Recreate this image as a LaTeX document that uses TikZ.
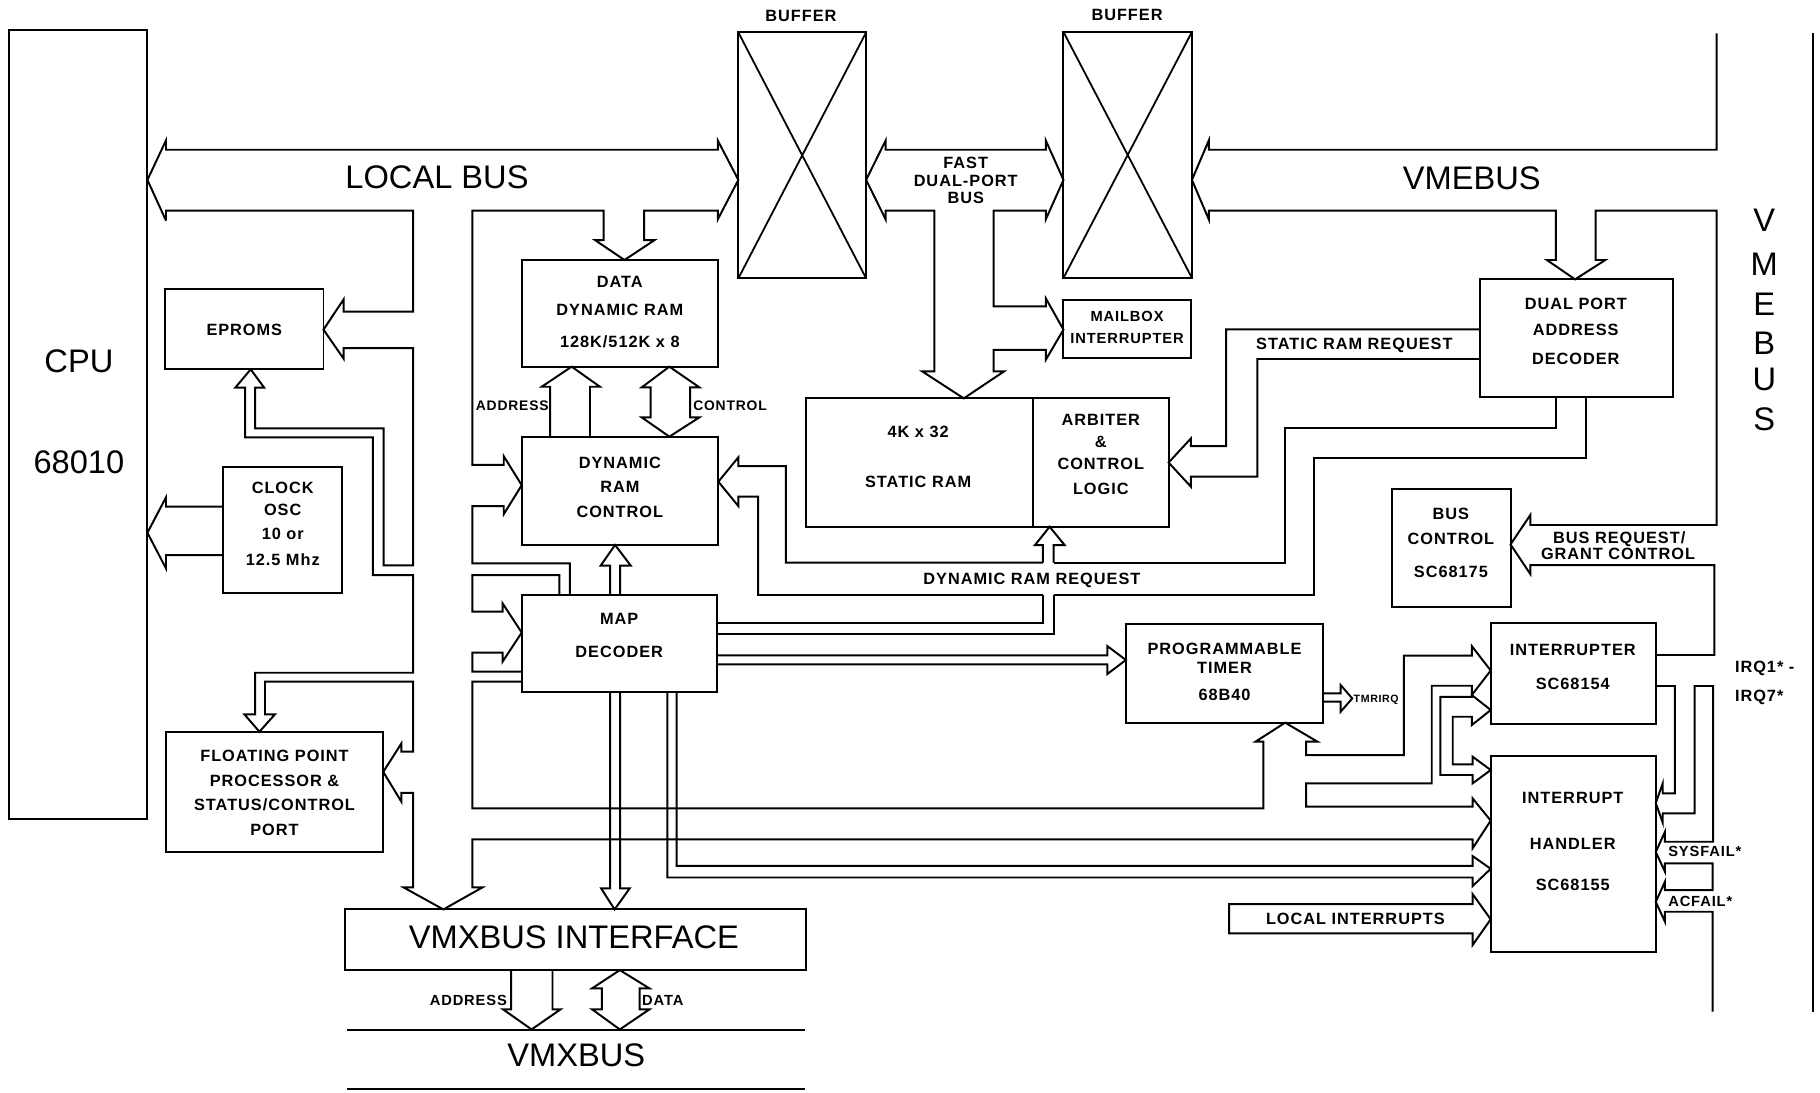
\documentclass[tikz,border=0pt]{standalone}
\usepackage{fontspec}
\setmainfont{Liberation Sans}
\newfontfamily\labfont[LetterSpace=6]{Liberation Sans}
\newcommand\blk[5]{%
  \pgfmathsetmacro\blkw{(#4-#2)*0.025}%
  \pgfmathsetmacro\blkh{(#5-#3)*0.025}%
  \node[blkbox, minimum width=\blkw cm, minimum height=\blkh cm] (#1) at ({(#2+#4)/2},{(#3+#5)/2}) {};}
\begin{document}
\begin{tikzpicture}[x=0.025cm,y=-0.025cm,
  blkbox/.style={draw, line width=1.2pt, inner sep=0pt, outer sep=0pt},
  busline/.style={draw, line width=1.2pt, line join=miter},
  lbl/.style={font=\labfont\bfseries\fontsize{10}{12}\selectfont, inner sep=0pt, text depth=0pt},
  lblsm/.style={font=\labfont\bfseries\fontsize{9}{11}\selectfont, inner sep=0pt, text depth=0pt},
  lblxs/.style={font=\labfont\bfseries\fontsize{8.5}{10}\selectfont, inner sep=0pt, text depth=0pt},
  lbltiny/.style={font=\labfont\bfseries\fontsize{6.5}{8}\selectfont, inner sep=0pt, text depth=0pt},
  bigtxt/.style={font=\fontsize{20}{24}\selectfont, inner sep=0pt, text depth=0pt}]
\useasboundingbox (0,0) rectangle (1568,941);

% ---------- blocks ----------
\blk{cpu}{8}{26}{127}{706}
\blk{eprom}{142.4}{249.3}{278.7}{318.2}
\blk{clock}{192.5}{402.1}{294.7}{511.2}
\blk{fpp}{143.1}{630.4}{330.2}{733.8}
\blk{dram}{449.5}{224}{618.9}{315.9}
\blk{drc}{449.5}{376.2}{618.9}{469.5}
\blk{map}{449.5}{512.6}{617.5}{595.9}
\blk{bufA}{636.1}{27.9}{746.2}{239.8}
\blk{bufB}{916.2}{27.5}{1026.9}{239.5}
\blk{mbox}{916.2}{258.5}{1025.9}{308.7}
\blk{sram}{694.1}{343.2}{890}{453.8}
\blk{arb}{890}{343.2}{1006.8}{453.8}
\blk{dpad}{1274.8}{240.7}{1441}{341.8}
\blk{busctl}{1199.1}{421.6}{1301.4}{522.7}
\blk{timer}{970}{537.9}{1139.5}{622.6}
\blk{intr}{1284.3}{537.1}{1426.5}{623.8}
\blk{hdl}{1284.3}{651.4}{1426.5}{820}
\blk{vmxif}{297.2}{783.5}{694.1}{835.8}

\draw[line width=1.1pt] (bufA.north west) -- (bufA.south east) (bufA.north east) -- (bufA.south west);
\draw[line width=1.1pt] (bufB.north west) -- (bufB.south east) (bufB.north east) -- (bufB.south west);

% ---------- local bus and its branches ----------
\draw[busline] (143,190) -- (127,155) -- (143,121) -- (143,129) -- (618.4,129) -- (618.4,121) -- (636.1,155)
  -- (618.4,189) -- (618.4,181.5) -- (555,181.5) -- (555,206.8) -- (564,206.8) -- (538,224) -- (512.6,206.8)
  -- (520,206.8) -- (520,181.5) -- (407,181.5) -- (407,400.5) -- (434,400.5) -- (434,393) -- (449.5,418)
  -- (434,443) -- (434,436) -- (407,436) -- (407,485.3) -- (491,485.3) -- (491,512.6);
\draw[busline] (143,190) -- (143,181.5) -- (356,181.5) -- (356,268.5) -- (296,268.5) -- (296,258) -- (278.7,284)
  -- (296,309) -- (296,300) -- (356,300) -- (356,487) -- (330.5,487) -- (330.5,369) -- (219.8,369)
  -- (219.8,334) -- (227.6,334) -- (216,318.2) -- (202.7,334) -- (211.2,334) -- (211.2,376.8) -- (321.3,376.8)
  -- (321.3,495.4) -- (356,495.4) -- (356,579.6) -- (219.8,579.6) -- (219.8,615.5) -- (210.6,615.5)
  -- (223.5,630.4) -- (236.8,615.5) -- (228.3,615.5) -- (228.3,587.3) -- (356,587.3) -- (356,647.6)
  -- (345.8,647.6) -- (345.8,640.5) -- (330.2,665) -- (345.8,690.7) -- (345.8,683) -- (356,683)
  -- (356,764.5) -- (347.6,764.5) -- (382,783.5) -- (415.7,764.5) -- (407,764.5) -- (407,723.2)
  -- (1268.7,723.2) -- (1268.7,730.9) -- (1284.3,707) -- (1268.7,687.8) -- (1268.7,695) -- (1125.2,695)
  -- (1125.2,674.9) -- (1233.5,674.9) -- (1233.5,590.8) -- (1268,590.8) -- (1268,598.8) -- (1284.3,577.7)
  -- (1268,556.6) -- (1268,564.9) -- (1209.4,564.9) -- (1209.4,650.5) -- (1125.2,650.5) -- (1125.2,639)
  -- (1135.1,639) -- (1107.2,622.6) -- (1081.6,639) -- (1088.4,639) -- (1088.4,696.4) -- (407,696.4)
  -- (407,587.3) -- (449.5,587.3);
\draw[busline] (482,512.6) -- (482,495.4) -- (407,495.4) -- (407,527) -- (433,527) -- (433,519.8) -- (449.5,545)
  -- (433,570) -- (433,562.3) -- (407,562.3) -- (407,578.7) -- (449.5,578.7);

% ---------- fast dual-port bus ----------
\draw[busline] (901,189) -- (901,181.5) -- (856,181.5) -- (856,264) -- (901,264) -- (901,257) -- (916.2,284)
  -- (901,310) -- (901,301.5) -- (856,301.5) -- (856,320) -- (865,320) -- (830.3,343.2) -- (794.6,320)
  -- (805,320) -- (805,181.5) -- (763,181.5) -- (763,189) -- (746.2,155) -- (763,121) -- (763,129)
  -- (901,129) -- (901,121) -- (916.2,155) -- cycle;

% ---------- VMEbus ----------
\draw[busline] (1479,28.7) -- (1479,129) -- (1041.4,129) -- (1041.4,121) -- (1026.9,155) -- (1041.4,189)
  -- (1041.4,181.5) -- (1340.5,181.5) -- (1340.5,224) -- (1332.7,224) -- (1357,240.7) -- (1383,224)
  -- (1374.6,224) -- (1374.6,181.5) -- (1479,181.5) -- (1479,452.3) -- (1318.4,452.3) -- (1318.4,443.7)
  -- (1301.4,469) -- (1318.4,494.5) -- (1318.4,486.8) -- (1477,486.8) -- (1477,564.3) -- (1426.5,564.3);
\draw[busline] (1562,28.7) -- (1562,871.6);
\draw[busline] (1426.5,591) -- (1443,591) -- (1443,683.5) -- (1432.5,683.5) -- (1432.5,674.9) -- (1426.5,691.9)
  -- (1432.5,708.8) -- (1432.5,700.8) -- (1460,700.8) -- (1460,591) -- (1476,591) -- (1476,725.2)
  -- (1434.4,725.2) -- (1434.4,716.6) -- (1426.5,734) -- (1434.4,751) -- (1434.4,743.9) -- (1475.5,743.9)
  -- (1475.5,766.8) -- (1434.4,766.8) -- (1434.4,759.6) -- (1426.5,777) -- (1434.4,794.1) -- (1434.4,785.5)
  -- (1475.5,785.5) -- (1475.5,871.6);

% ---------- interrupter <-> handler ----------
\draw[busline] (1241,600.3) -- (1241,667.7) -- (1268.7,667.7) -- (1268.7,674.9) -- (1284.3,663.4)
  -- (1268.7,651.9) -- (1268.7,658.5) -- (1251.6,658.5) -- (1251.6,617.5) -- (1268,617.5) -- (1268,624.7)
  -- (1284.3,611.7) -- (1268,598.8) -- (1268,600.3) -- cycle;

% ---------- map decoder outputs ----------
\draw[busline] (575,595.9) -- (575,756) -- (1268.7,756) -- (1268.7,763.4) -- (1284.3,748.5) -- (1268.7,737.5)
  -- (1268.7,746) -- (583,746) -- (583,595.9);
\draw[busline] (525.6,595.9) -- (525.6,765.4) -- (517.9,765.4) -- (529.5,783.5) -- (542.5,765.4)
  -- (534.2,765.4) -- (534.2,595.9);
\draw[busline] (617.5,564.6) -- (954,564.6) -- (954,556.6) -- (970,568.6) -- (954,580.7) -- (954,572.4)
  -- (617.5,572.4);
\draw[busline] (617.5,537) -- (898.5,537) -- (898.5,512.6);
\draw[busline] (617.5,546) -- (907.7,546) -- (907.7,512.6);
\draw[busline] (898.5,484.8) -- (898.5,469.6) -- (891.7,469.6) -- (904.3,453.8) -- (917.2,469.6)
  -- (907.7,469.6) -- (907.7,484.8);
\draw[busline] (525.6,512.6) -- (525.6,487.3) -- (517.5,487.3) -- (529.9,469.5) -- (543.4,487.3)
  -- (534.2,487.3) -- (534.2,512.6);

% ---------- dynamic RAM request ----------
\draw[busline] (898.5,484.8) -- (677,484.8) -- (677,401.5) -- (636.1,401.5) -- (636.1,394) -- (618.9,415)
  -- (636.1,436) -- (636.1,427.9) -- (653.2,427.9) -- (653.2,512.6) -- (898.5,512.6);
\draw[busline] (907.7,484.8) -- (1107.2,484.8) -- (1107.2,368.5) -- (1340.5,368.5) -- (1340.5,341.8);
\draw[busline] (907.7,512.6) -- (1132,512.6) -- (1132,394.3) -- (1366,394.3) -- (1366,341.8);

% ---------- static RAM request ----------
\draw[busline] (1274.8,283.8) -- (1056.3,283.8) -- (1056.3,384.3) -- (1026,384.3) -- (1026,377.7)
  -- (1006.8,398.5) -- (1026,419.3) -- (1026,410.7) -- (1083.3,410.7) -- (1083.3,309.3) -- (1274.8,309.3);

% ---------- data RAM address / control ----------
\draw[busline] (473.9,376.2) -- (473.9,333.2) -- (466.7,333.2) -- (492.5,315.9) -- (516.9,333.2)
  -- (508.3,333.2) -- (508.3,376.2);
\draw[busline] (560.6,333.7) -- (552.9,333.7) -- (576.7,315.9) -- (602.5,333.7) -- (594.5,333.7)
  -- (594.5,359.6) -- (602.5,359.6) -- (576.7,376.2) -- (552.9,359.6) -- (560.6,359.6) -- cycle;

% ---------- clock ----------
\draw[busline] (192.5,436.5) -- (143,436.5) -- (143,428.5) -- (127,459) -- (143,489.7) -- (143,478.2)
  -- (192.5,478.2);

% ---------- timer output ----------
\draw[busline] (1139.5,597.4) -- (1155,597.4) -- (1155,590.2) -- (1165,601.7) -- (1155,613.2)
  -- (1155,604.5) -- (1139.5,604.5);

% ---------- local interrupts ----------
\draw[busline] (1058.9,778.9) -- (1268.7,778.9) -- (1268.7,770.3) -- (1284.3,792) -- (1268.7,814.2)
  -- (1268.7,804.2) -- (1058.9,804.2) -- cycle;

% ---------- VMXbus ----------
\draw[busline] (440.3,835.8) -- (440.3,869.6) -- (433.4,869.6) -- (458,886.9) -- (482.9,869.6)
  -- (476,869.6) -- (476,835.8);
\draw[busline] (518.6,851.5) -- (510.1,851.5) -- (534,835.8) -- (559.5,851.5) -- (551,851.5)
  -- (551,869.6) -- (559.5,869.6) -- (534,886.9) -- (510.1,869.6) -- (518.6,869.6) -- cycle;
\draw[busline] (298.9,887) -- (693.4,887);
\draw[busline] (298.9,938.6) -- (693.4,938.6);

% ---------- labels ----------
\node[lbl] (tbufA) at (690,14) {BUFFER};
\node[lbl] (tbufB) at (971,13) {BUFFER};
\node[bigtxt] (tlocal) at (376.5,153) {LOCAL BUS};
\node[bigtxt] (tvme) at (1268,153.6) {VMEBUS};
\node[lbl] (tfast1) at (832,140.4) {FAST};
\node[lbl] (tfast2) at (832,155.4) {DUAL-PORT};
\node[lbl] (tfast3) at (832,170.6) {BUS};
\node[bigtxt] (tcpu1) at (68,311) {CPU};
\node[bigtxt] (tcpu2) at (68,398) {68010};
\node[lbl] (tep) at (210.5,284.3) {EPROMS};
\node[lbl] (td1) at (534,242.7) {DATA};
\node[lbl] (td2) at (534,267.1) {DYNAMIC RAM};
\node[lbl] (td3) at (534,294.4) {128K/512K x 8};
\node[lblxs, anchor=east] (taddr) at (473,349.8) {ADDRESS};
\node[lblxs, anchor=west] (tctl) at (597,349.8) {CONTROL};
\node[lbl] (tc1) at (534,398.7) {DYNAMIC};
\node[lbl] (tc2) at (534,419.3) {RAM};
\node[lbl] (tc3) at (534,440.9) {CONTROL};
\node[lbl] (tm1) at (533.5,533.6) {MAP};
\node[lbl] (tm2) at (533.5,561.4) {DECODER};
\node[lbl] (tk1) at (243.6,419.9) {CLOCK};
\node[lbl] (tk2) at (243.6,438.8) {OSC};
\node[lbl] (tk3) at (243.6,460.1) {10 or};
\node[lbl] (tk4) at (243.6,482.5) {12.5 Mhz};
\node[lbl] (tf1) at (236.5,651.4) {FLOATING POINT};
\node[lbl] (tf2) at (236.5,672.6) {PROCESSOR \&};
\node[lbl] (tf3) at (236.5,693) {STATUS/CONTROL};
\node[lbl] (tf4) at (236.5,714.6) {PORT};
\node[lbl] (ts1) at (791,371.9) {4K x 32};
\node[lbl] (ts2) at (791,415) {STATIC RAM};
\node[lbl] (ta1) at (948.4,361.9) {ARBITER};
\node[lbl] (ta2) at (948.4,380.5) {\&};
\node[lbl] (ta3) at (948.4,399.2) {CONTROL};
\node[lbl] (ta4) at (948.4,420.7) {LOGIC};
\node[lblsm] (tmb1) at (971,272.8) {MAILBOX};
\node[lblsm] (tmb2) at (971,291.5) {INTERRUPTER};
\node[lbl] (tsrr) at (1166.8,295.8) {STATIC RAM REQUEST};
\node[lbl] (tdp1) at (1357.6,262) {DUAL PORT};
\node[lbl] (tdp2) at (1357.6,284.3) {ADDRESS};
\node[lbl] (tdp3) at (1357.6,309.3) {DECODER};
\node[bigtxt] (tv1) at (1520,190) {V};
\node[bigtxt] (tv2) at (1520,228) {M};
\node[bigtxt] (tv3) at (1520,262) {E};
\node[bigtxt] (tv4) at (1520,296) {B};
\node[bigtxt] (tv5) at (1520,327) {U};
\node[bigtxt] (tv6) at (1520,361) {S};
\node[lbl] (tdrr) at (889,499) {DYNAMIC RAM REQUEST};
\node[lbl] (tt1) at (1055,558.6) {PROGRAMMABLE};
\node[lbl] (tt2) at (1055,575.5) {TIMER};
\node[lbl] (tt3) at (1055,599) {68B40};
\node[lbltiny, anchor=west] (ttmr) at (1166,601.7) {TMRIRQ};
\node[lbl] (tb1) at (1250,442.9) {BUS};
\node[lbl] (tb2) at (1250,463.8) {CONTROL};
\node[lbl] (tb3) at (1250,492.5) {SC68175};
\node[lbl] (tbr1) at (1395,463) {BUS REQUEST/};
\node[lbl] (tbr2) at (1394,477) {GRANT CONTROL};
\node[lbl] (ti1) at (1355,559.5) {INTERRUPTER};
\node[lbl] (ti2) at (1355,588.8) {SC68154};
\node[lbl, anchor=west] (tirq1) at (1494.5,574.4) {IRQ1* -};
\node[lbl, anchor=west] (tirq7) at (1494.5,599.7) {IRQ7*};
\node[lbl] (th1) at (1355,687) {INTERRUPT};
\node[lbl] (th2) at (1355,727.2) {HANDLER};
\node[lbl] (th3) at (1355,762.5) {SC68155};
\node[lblsm, anchor=west] (tsys) at (1437,733.8) {SYSFAIL*};
\node[lblsm, anchor=west] (tac) at (1437,776.9) {ACFAIL*};
\node[lbl] (tli) at (1167.7,792) {LOCAL INTERRUPTS};
\node[bigtxt] (tvif) at (494.4,807.6) {VMXBUS INTERFACE};
\node[lblsm, anchor=east] (taddr2) at (437,861.6) {ADDRESS};
\node[lblsm, anchor=west] (tdata2) at (553,861.6) {DATA};
\node[bigtxt] (tvmx) at (496.5,909) {VMXBUS};
\end{tikzpicture}
\end{document}
